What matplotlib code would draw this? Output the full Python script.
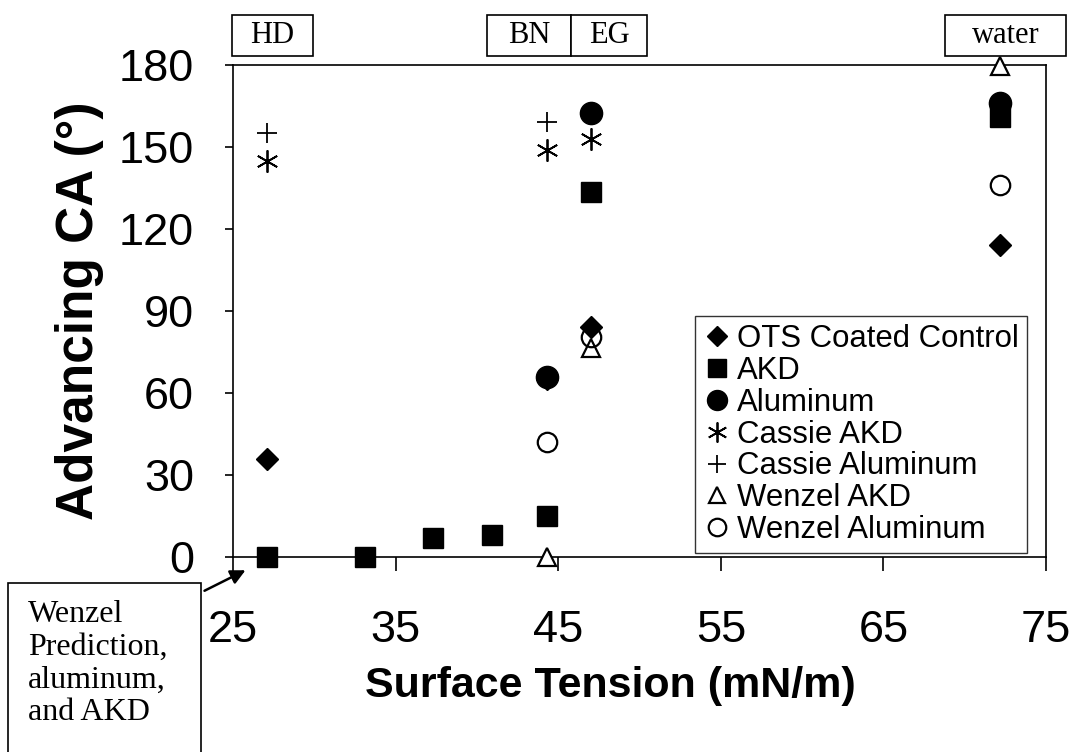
import matplotlib
matplotlib.use("Agg")
import matplotlib.pyplot as plt
from matplotlib.patches import Rectangle

# data
ots_x = [27.1, 44.3, 47.0, 72.2]
ots_y = [36, 65, 84, 114]

akd_x = [27.1, 33.1, 37.3, 40.9, 44.3, 47.0, 72.2]
akd_y = [0, 0, 7, 8, 15, 133.5, 161]

al_x = [44.3, 47.0, 72.2]
al_y = [66, 162.5, 166]

cassie_akd_x = [27.1, 44.3, 47.0, 72.2]
cassie_akd_y = [145, 149, 153, 164]

cassie_al_x = [27.1, 44.3, 47.0, 72.2]
cassie_al_y = [155, 159, 162, 165]

wenzel_akd_x = [44.3, 47.0, 72.2]
wenzel_akd_y = [0, 76.5, 179.5]

wenzel_al_x = [44.3, 47.0, 72.2]
wenzel_al_y = [42, 80.5, 136]

W, H = 1076, 752
fig = plt.figure(figsize=(W / 100, H / 100), dpi=100)
# axes box in pixels: left 233, right 1046, top 65, bottom 557
ax = fig.add_axes([233 / W, 1 - 557 / H, (1046 - 233) / W, (557 - 65) / H])

sans = "Liberation Sans"
serif = "Liberation Serif"

k = dict(linestyle="none", color="black", clip_on=False)
ax.plot(cassie_akd_x, cassie_akd_y, marker=(6, 2, 0), markersize=16, markeredgewidth=1.3, label="Cassie AKD", zorder=3, **k)
ax.plot(cassie_al_x, cassie_al_y, marker="+", markersize=15, markeredgewidth=1.3, label="Cassie Aluminum", zorder=3, **k)
ax.plot(wenzel_akd_x, wenzel_akd_y, marker="^", markersize=13, markerfacecolor="white", markeredgewidth=1.6, label="Wenzel AKD", zorder=4, **k)
ax.plot(wenzel_al_x, wenzel_al_y, marker="o", markersize=14, markerfacecolor="none", markeredgewidth=1.6, label="Wenzel Aluminum", zorder=4, **k)
ax.plot(ots_x, ots_y, marker="D", markersize=11.5, label="OTS Coated Control", zorder=5, **k)
ax.plot(akd_x, akd_y, marker="s", markersize=15, label="AKD", zorder=5, **k)
ax.plot(al_x, al_y, marker="o", markersize=16, label="Aluminum", zorder=6, **k)

ax.set_xlim(25, 75)
ax.set_ylim(0, 180)
ax.set_xticks(range(25, 76, 10))
ax.set_yticks(range(0, 181, 30))
for s in ax.spines.values():
    s.set_linewidth(1.2)
ax.tick_params(axis="y", direction="out", length=6, width=1.2, pad=22, labelsize=32.5)
ax.tick_params(axis="x", direction="out", length=10, width=1.2, pad=28, labelsize=32.5)
for t in ax.get_xticklabels() + ax.get_yticklabels():
    t.set_fontfamily(sans)

fig.text(610 / W, 1 - 686 / H, "Surface Tension (mN/m)", fontsize=31, fontweight="bold",
         family=sans, ha="center", va="center")
fig.text(80 / W, 1 - 311 / H, "Advancing CA (°)", fontsize=37, fontweight="bold",
         family=sans, ha="center", va="center", rotation=90)

# legend in the order of the original
h, l = ax.get_legend_handles_labels()
order = ["OTS Coated Control", "AKD", "Aluminum", "Cassie AKD", "Cassie Aluminum", "Wenzel AKD", "Wenzel Aluminum"]
hh = [h[l.index(o)] for o in order]
leg = ax.legend(hh, order, loc="lower right", bbox_to_anchor=((1027 - 233) / 813, 4 / 492),
                prop={"family": sans, "size": 22.4}, frameon=True, fancybox=False,
                handlelength=0.9, handletextpad=0.2, labelspacing=0.06, borderpad=0.25,
                borderaxespad=0, markerscale=0.9)
leg.get_frame().set_edgecolor("black")
leg.get_frame().set_linewidth(1.0)


def box(x0, y0, x1, y1, txt):
    fig.add_artist(Rectangle((x0 / W, 1 - y1 / H), (x1 - x0) / W, (y1 - y0) / H,
                             transform=fig.transFigure, facecolor="white",
                             edgecolor="black", linewidth=1.2))
    if txt:
        fig.text((x0 + x1) / 2 / W, 1 - (y0 + y1) / 2 / H, txt, fontsize=22, family=serif,
                 ha="center", va="center")


box(232, 15, 313, 56, "HD")
box(487, 15, 571, 56, "BN")
box(571, 15, 647, 56, "EG")
box(945, 15, 1066, 56, "water")

# Wenzel note at bottom-left
box(8, 583, 201, 760, "")
fig.text(28 / W, 1 - 600 / H, "Wenzel\nPrediction,\naluminum,\nand AKD", fontsize=23, family=serif,
         ha="left", va="top", linespacing=1.17)
ax.annotate("", xy=(248 / W, 1 - 569 / H), xycoords="figure fraction",
            xytext=(202 / W, 1 - 592 / H), textcoords="figure fraction",
            arrowprops=dict(arrowstyle="-|>", color="black", lw=1.8, mutation_scale=22))

fig.savefig("out.png", dpi=100)
